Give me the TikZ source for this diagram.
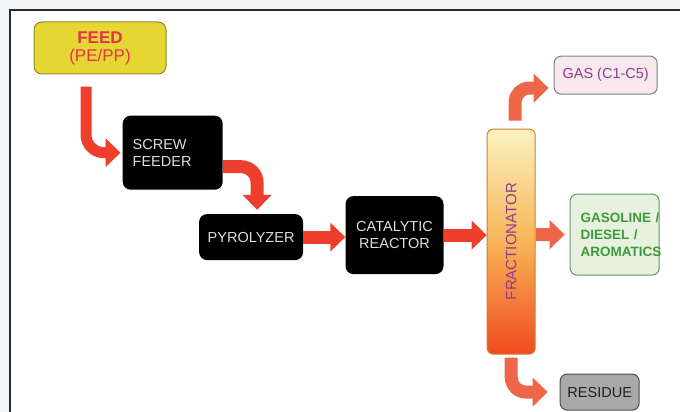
\documentclass[tikz,border=0pt]{standalone}
\usepackage{fontspec}
\setmainfont{Liberation Sans}
\usetikzlibrary{
  arrows.meta,
  positioning
}
\definecolor{pagebg}{HTML}{F3F6F8}
\definecolor{framecol}{HTML}{2A2A2A}
\definecolor{feedfill}{HTML}{E6D634}
\definecolor{feedtext}{HTML}{E5334A}
\definecolor{unittext}{HTML}{DEDEDE}
\definecolor{flowred}{HTML}{EE3E2C}
\definecolor{tapred}{HTML}{EE6648}
\definecolor{gasfill}{HTML}{F9E8EE}
\definecolor{gastext}{HTML}{8C3C8C}
\definecolor{fuelfill}{HTML}{E7F1DD}
\definecolor{fueltext}{HTML}{3C9A3C}
\definecolor{coltop}{HTML}{FBF2C0}
\definecolor{colmid}{HTML}{F8B458}
\definecolor{colbot}{HTML}{F04A1E}
\definecolor{resfill}{HTML}{A9A9A9}
\definecolor{restext}{HTML}{202020}
\tikzset{
  >={Triangle[width=28pt,length=15pt]},
  unit/.style = {fill=black, rounded corners=8pt, inner sep=0pt,
    text=unittext, font=\fontsize{14.5}{17}\selectfont},
  product/.style = {draw=gray, line width=1pt, rounded corners=7pt,
    inner sep=0pt, font=\fontsize{14.5}{17}\selectfont},
  flow/.style = {->, draw=flowred, line width=13pt},
  tap/.style = {flow, draw=tapred},
}

\begin{document}
\begin{tikzpicture}[x=1pt, y=-1pt]
  \useasboundingbox (0,0) rectangle (680,412);
  \fill[pagebg] (0,0) rectangle (680,412);
  \fill[white] (10,10) rectangle (680,412);
  \draw[line width=2.5pt, framecol] (10,412) -- (10,10) -- (680,10);

  % process units
  \node[draw=olive!70!gray, line width=1pt, fill=feedfill, rounded corners=8pt,
    minimum width=132pt, minimum height=52pt, inner sep=0pt, align=center,
    font=\fontsize{17}{18}\selectfont, text=feedtext] (feed) at (100,48)
    {\textbf{FEED}\\(PE/PP)};
  \node[unit, minimum width=100pt, minimum height=74pt, text width=80pt,
    align=left, below right=41pt and -44pt of feed] (screw) {SCREW\\FEEDER};
  \node[unit, minimum width=104pt, minimum height=46pt,
    below right=24pt and -24pt of screw] (pyro) {PYROLYZER};
  \node[unit, minimum width=98pt, minimum height=78pt, align=center,
    right=42pt of pyro, yshift=2pt] (reactor) {CATALYTIC\\REACTOR};
  \node[draw=brown!80!orange, line width=1pt, rounded corners=6pt,
    top color=coltop, bottom color=colbot, middle color=colmid,
    minimum width=48pt, minimum height=225pt, inner sep=0pt,
    font=\fontsize{15}{17}\selectfont, text=gastext,
    right=43pt of reactor, yshift=-6.5pt] (column) {\rotatebox{90}{FRACTIONATOR}};

  % products
  \node[product, fill=gasfill, text=gastext, minimum width=103pt,
    minimum height=38pt, above right=34pt and 18pt of column] (gas) {GAS (C1-C5)};
  \node[product, draw=gray!80!green, fill=fuelfill, text=fueltext,
    minimum width=89pt, minimum height=81pt, text width=68pt, align=left,
    font=\bfseries\fontsize{13.5}{16.7}\selectfont,
    right=34pt of column, yshift=7pt] (fuel)
    {\mbox{GASOLINE /}\\\mbox{DIESEL /}\\\mbox{AROMATICS}};
  \node[product, draw=gray!60!black, fill=resfill, text=restext,
    minimum width=79pt, minimum height=36pt,
    below right=19pt and 24pt of column] (residue) {RESIDUE};

  % streams
  \draw[flow, line width=11pt, rounded corners=18pt]
    ([xshift=-14pt,yshift=-12pt]feed.south) |- ([xshift=-2pt]screw.west);
  \draw[flow, rounded corners=16pt]
    ([yshift=-14pt]screw.east) -| ([xshift=6pt,yshift=4pt]pyro.north);
  \draw[flow] (pyro.east) -- (pyro.east -| reactor.west);
  \draw[flow] (reactor.east) -- (reactor.east -| column.west);
  \draw[tap, rounded corners=14pt]
    ([xshift=4pt,yshift=8pt]column.north) |- ([xshift=-5pt,yshift=-13pt]gas.west);
  \draw[tap] (column.east |- fuel.west) -- ([xshift=-5pt]fuel.west);
  \draw[tap, rounded corners=15pt]
    ([yshift=-3pt]column.south) |- ([xshift=-12pt]residue.west);
\end{tikzpicture}
\end{document}
